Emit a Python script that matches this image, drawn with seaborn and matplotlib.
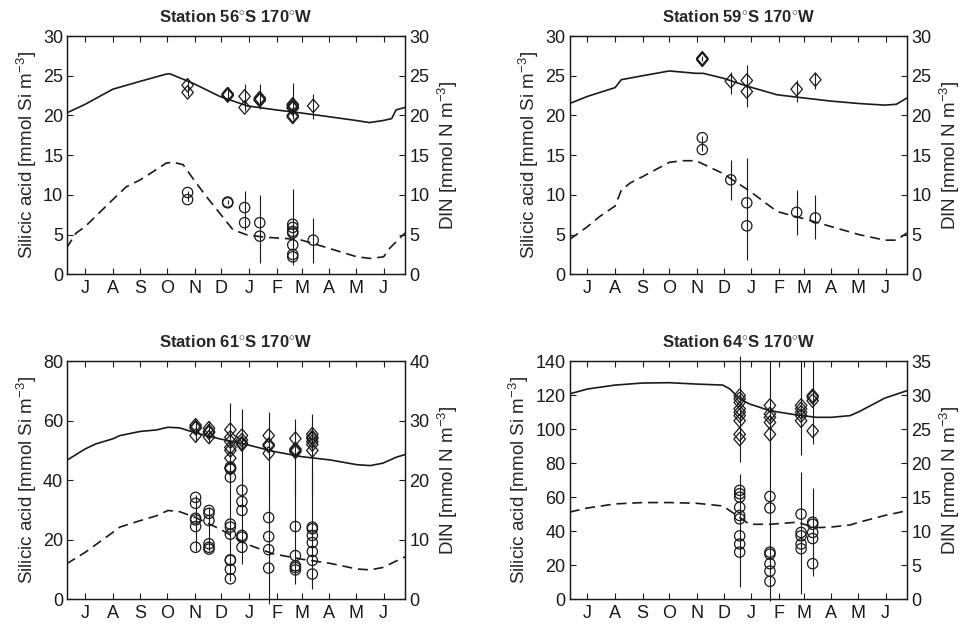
import numpy as np
import pandas as pd
import matplotlib
matplotlib.use("Agg")
import matplotlib.pyplot as plt
import seaborn as sns

sns.set_theme(style="ticks")
plt.rcParams['font.family'] = ['Liberation Sans', 'DejaVu Sans']
plt.rcParams['mathtext.fontset'] = 'custom'
plt.rcParams['mathtext.rm'] = 'Liberation Sans'
plt.rcParams['mathtext.it'] = 'Liberation Sans'
plt.rcParams['mathtext.bf'] = 'Liberation Sans:bold'

# ---------------- data (x = days since 1 July) ----------------
month_labels = ['J', 'A', 'S', 'O', 'N', 'D', 'J', 'F', 'M', 'A', 'M', 'J']
month_ticks = [0, 31, 62, 92, 123, 153, 184, 215, 243, 274, 304, 335]

titles = ['Station 56$^{\\circ}$S 170$^{\\circ}$W', 'Station 59$^{\\circ}$S 170$^{\\circ}$W',
          'Station 61$^{\\circ}$S 170$^{\\circ}$W', 'Station 64$^{\\circ}$S 170$^{\\circ}$W']

# Station 56S
s1_si_days = [-21, 0, 31, 62, 91, 95, 122, 151, 182, 214, 243, 273, 305, 319, 334, 344, 349, 359]
s1_si_model = [20.3, 21.4, 23.3, 24.3, 25.2, 25.25, 24.0, 22.4, 21.2, 20.7, 20.3, 19.85, 19.35, 19.1, 19.35, 19.6, 20.7, 21.0]
s1_din_days = [-21, -10, 0, 31, 46, 62, 76, 91, 99, 110, 122, 136, 151, 166, 182, 203, 226, 243, 273, 305, 320, 335, 342, 359]
s1_din_model = [3.3, 5.2, 6.0, 9.4, 11.0, 11.9, 12.9, 14.0, 14.1, 13.8, 11.9, 9.8, 7.7, 5.6, 4.95, 4.66, 4.5, 4.3, 3.3, 2.2, 2.0, 2.2, 3.3, 5.2]
s1_si_obs_days = [115, 115, 160, 160, 160, 179, 179, 196, 196, 196, 233, 233, 233, 233, 233, 233, 256]
s1_si_obs = [23.8, 22.9, 22.5, 22.7, 22.6, 22.4, 21.0, 22.0, 22.2, 21.9, 21.4, 21.2, 21.0, 20.9, 20.0, 19.8, 21.2]
s1_din_obs_days = [115, 115, 160, 160, 179, 179, 196, 196, 233, 233, 233, 233, 233, 233, 233, 256]
s1_din_obs = [10.3, 9.4, 9.1, 9.0, 8.4, 6.5, 6.5, 4.8, 6.3, 5.9, 5.4, 5.2, 3.7, 2.5, 2.2, 4.3]
s1_si_err_days = [115, 160, 179, 196, 233, 256]
s1_si_err_lo = [22.5, 22.0, 20.5, 20.8, 19.5, 19.5]
s1_si_err_hi = [24.3, 23.2, 23.9, 23.9, 24.1, 22.7]
s1_din_err_days = [115, 160, 179, 196, 233, 256]
s1_din_err_lo = [9.2, 8.8, 5.6, 1.4, 1.2, 1.4]
s1_din_err_hi = [10.5, 9.4, 10.5, 10.0, 10.8, 7.1]

# Station 59S
s2_si_days = [-20, 0, 31, 38, 62, 92, 122, 130, 152, 182, 213, 243, 274, 305, 334, 347, 359]
s2_si_model = [21.5, 22.4, 23.5, 24.5, 25.0, 25.6, 25.3, 25.3, 24.7, 23.6, 22.6, 22.2, 21.8, 21.5, 21.3, 21.4, 22.2]
s2_din_days = [-20, 0, 14, 31, 38, 48, 62, 92, 107, 122, 152, 182, 213, 243, 274, 305, 334, 347, 359]
s2_din_model = [4.4, 6.0, 7.3, 8.6, 10.6, 11.5, 12.3, 14.1, 14.3, 14.3, 12.7, 10.5, 7.9, 7.0, 6.0, 5.0, 4.3, 4.3, 5.2]
s2_si_obs_days = [129, 129, 129, 161, 179, 179, 235, 256]
s2_si_obs = [27.2, 27.0, 27.1, 24.3, 24.4, 23.0, 23.3, 24.5]
s2_din_obs_days = [129, 129, 161, 179, 179, 235, 256]
s2_din_obs = [17.2, 15.7, 11.9, 9.0, 6.1, 7.8, 7.1]
s2_si_err_days = [129, 161, 179, 235, 256]
s2_si_err_lo = [26.8, 22.7, 21.1, 21.7, 23.3]
s2_si_err_hi = [27.5, 25.5, 26.3, 24.5, 25.5]
s2_din_err_days = [129, 161, 179, 235, 256]
s2_din_err_lo = [15.5, 9.4, 1.8, 5.0, 4.5]
s2_din_err_hi = [17.4, 14.4, 14.6, 10.6, 10.0]

# Station 61S
s3_si_days = [-21, 0, 12, 31, 39, 62, 80, 93, 106, 124, 151, 181, 211, 243, 275, 305, 320, 334, 349, 359]
s3_si_model = [46.6, 50.5, 52.2, 53.9, 55.0, 56.4, 56.9, 57.8, 57.6, 55.9, 53.9, 52.0, 49.7, 47.9, 46.8, 45.2, 44.9, 45.7, 47.7, 48.6]
s3_din_days = [-21, 0, 31, 39, 62, 80, 93, 106, 124, 151, 181, 211, 243, 275, 305, 320, 334, 359]
s3_din_model = [5.9, 7.85, 11.2, 12.1, 13.2, 14.0, 14.9, 14.7, 13.7, 11.8, 9.25, 7.6, 6.7, 6.0, 5.05, 4.9, 5.3, 7.1]
s3_si_obs_days = [124, 124, 124, 124, 139, 139, 139, 139, 163, 163, 163, 163, 163, 163, 163,
                  176, 176, 176, 176, 206, 206, 206, 206, 236, 236, 236, 236, 255, 255, 255, 255, 255, 255]
s3_si_obs = [58.5, 57.5, 57.8, 55.0, 57.5, 56.5, 56.0, 54.5, 57.0, 54.4, 53.0, 51.0, 50.0, 47.4, 44.0,
             55.0, 53.5, 52.5, 52.0, 55.0, 52.0, 51.5, 49.0, 54.0, 50.5, 50.0, 49.5, 55.5, 54.5, 54.0, 53.0, 52.0, 50.0]
s3_din_obs_days = [124] * 6 + [139] * 6 + [163] * 10 + [176] * 6 + [206] * 4 + [236] * 5 + [255] * 7
s3_din_obs = [17.1, 16.1, 13.6, 13.3, 12.2, 8.7,
              14.9, 14.4, 13.2, 9.3, 8.7, 8.4,
              22.2, 21.9, 20.5, 12.6, 12.1, 10.9, 6.6, 6.5, 5.0, 3.4,
              18.3, 16.4, 14.9, 10.7, 10.4, 8.7,
              13.7, 10.5, 8.3, 5.2,
              12.2, 7.3, 5.6, 5.3, 4.9,
              12.1, 11.8, 10.7, 9.5, 8.0, 6.5, 4.2]
s3_si_err_days = [124, 139, 163, 176, 206, 236, 255]
s3_si_err_lo = [53.0, 53.0, 40.0, 40.0, 35.0, 35.0, 35.0]
s3_si_err_hi = [60.0, 60.0, 66.0, 64.0, 62.8, 60.6, 62.3]
s3_din_err_days = [124, 139, 163, 176, 206, 236, 255]
s3_din_err_lo = [8.0, 8.0, 3.1, 5.9, -0.8, 2.5, 1.7]
s3_din_err_hi = [17.5, 15.5, 22.0, 20.5, 20.0, 20.0, 22.0]

# Station 64S
s4_si_days = [-20, 0, 31, 62, 92, 122, 152, 160, 171, 182, 205, 235, 257, 274, 295, 305, 334, 359]
s4_si_model = [120.8, 123.7, 126.0, 127.2, 127.4, 126.6, 126.0, 123.7, 117.9, 114.9, 110.9, 108.4, 107.0, 107.0, 108.0, 110.3, 118.3, 122.7]
s4_din_days = [-20, 0, 31, 62, 92, 122, 152, 160, 171, 182, 205, 235, 257, 274, 295, 305, 334, 359]
s4_din_model = [12.8, 13.4, 14.0, 14.2, 14.2, 14.1, 13.7, 13.0, 12.0, 11.0, 11.0, 11.3, 10.5, 10.6, 10.9, 11.3, 12.3, 13.0]
s4_si_obs_days = [171] * 9 + [205] * 5 + [240] * 5 + [253] * 4
s4_si_obs = [119.8, 117.9, 115.8, 112.0, 110.0, 108.0, 105.0, 97.0, 94.2,
             114.0, 109.0, 107.0, 104.0, 97.0,
             114.0, 112.0, 110.0, 108.0, 105.0,
             119.8, 118.8, 116.8, 99.0]
s4_din_obs_days = [171] * 9 + [205] * 7 + [240] * 5 + [253] * 5
s4_din_obs = [16.0, 15.5, 15.0, 13.5, 12.3, 11.8, 9.3, 8.1, 6.9,
              15.1, 13.4, 6.9, 6.6, 5.2, 4.1, 2.6,
              12.5, 9.8, 9.3, 8.1, 7.4,
              11.3, 11.0, 9.8, 8.9, 5.2]
s4_si_err_days = [171, 205, 240, 253]
s4_si_err_lo = [80.5, 85.0, 85.0, 91.0]
s4_si_err_hi = [143.0, 140.0, 140.0, 140.0]
s4_din_err_days = [171, 205, 240, 253]
s4_din_err_lo = [1.7, -0.3, 0.7, 3.4]
s4_din_err_hi = [18.4, 25.0, 18.7, 16.4]

panels = [
    dict(si_days=s1_si_days, si_model=s1_si_model, din_days=s1_din_days, din_model=s1_din_model,
         si_obs_days=s1_si_obs_days, si_obs=s1_si_obs, din_obs_days=s1_din_obs_days, din_obs=s1_din_obs,
         si_err=(s1_si_err_days, s1_si_err_lo, s1_si_err_hi), din_err=(s1_din_err_days, s1_din_err_lo, s1_din_err_hi),
         ylim_l=(0, 30), yticks_l=[0, 5, 10, 15, 20, 25, 30], ylim_r=(0, 30), yticks_r=[0, 5, 10, 15, 20, 25, 30]),
    dict(si_days=s2_si_days, si_model=s2_si_model, din_days=s2_din_days, din_model=s2_din_model,
         si_obs_days=s2_si_obs_days, si_obs=s2_si_obs, din_obs_days=s2_din_obs_days, din_obs=s2_din_obs,
         si_err=(s2_si_err_days, s2_si_err_lo, s2_si_err_hi), din_err=(s2_din_err_days, s2_din_err_lo, s2_din_err_hi),
         ylim_l=(0, 30), yticks_l=[0, 5, 10, 15, 20, 25, 30], ylim_r=(0, 30), yticks_r=[0, 5, 10, 15, 20, 25, 30]),
    dict(si_days=s3_si_days, si_model=s3_si_model, din_days=s3_din_days, din_model=s3_din_model,
         si_obs_days=s3_si_obs_days, si_obs=s3_si_obs, din_obs_days=s3_din_obs_days, din_obs=s3_din_obs,
         si_err=(s3_si_err_days, s3_si_err_lo, s3_si_err_hi), din_err=(s3_din_err_days, s3_din_err_lo, s3_din_err_hi),
         ylim_l=(0, 80), yticks_l=[0, 20, 40, 60, 80], ylim_r=(0, 40), yticks_r=[0, 10, 20, 30, 40]),
    dict(si_days=s4_si_days, si_model=s4_si_model, din_days=s4_din_days, din_model=s4_din_model,
         si_obs_days=s4_si_obs_days, si_obs=s4_si_obs, din_obs_days=s4_din_obs_days, din_obs=s4_din_obs,
         si_err=(s4_si_err_days, s4_si_err_lo, s4_si_err_hi), din_err=(s4_din_err_days, s4_din_err_lo, s4_din_err_hi),
         ylim_l=(0, 140), yticks_l=[0, 20, 40, 60, 80, 100, 120, 140], ylim_r=(0, 35), yticks_r=[0, 5, 10, 15, 20, 25, 30, 35]),
]

# ---------------- figure ----------------
W, H = 966, 629
fig = plt.figure(figsize=(W / 100, H / 100), dpi=100)
boxes = [(67.3, 36, 405, 274.3), (569.7, 36, 907, 274.3),
         (67.3, 361.3, 405, 599), (569.7, 361.3, 907, 599)]

diamond = [(0, 1), (0.85, 0), (0, -1), (-0.85, 0), (0, 1)]
FS = 13

for p, box, title in zip(panels, boxes, titles):
    x0, y0, x1, y1 = box
    ax = fig.add_axes([x0 / W, 1 - y1 / H, (x1 - x0) / W, (y1 - y0) / H])
    ax2 = ax.twinx()

    # model lines
    sns.lineplot(x=p['si_days'], y=p['si_model'], ax=ax, color='k', lw=1.2,
                 estimator=None, sort=False)
    sns.lineplot(x=p['din_days'], y=p['din_model'], ax=ax2, color='k', lw=1.2,
                 estimator=None, sort=False)
    ax2.lines[-1].set_dashes((6, 3.5))

    # error bars
    d, lo, hi = p['si_err']
    ax.vlines(d, lo, hi, color='k', lw=0.8, clip_on=False)
    d, lo, hi = p['din_err']
    ax2.vlines(d, lo, hi, color='k', lw=0.8, clip_on=False)

    # observations
    sns.scatterplot(x=p['si_obs_days'], y=p['si_obs'], ax=ax, marker=diamond, s=95,
                    facecolor='none', edgecolor='k', linewidth=0.9, clip_on=False)
    sns.scatterplot(x=p['din_obs_days'], y=p['din_obs'], ax=ax2, marker='o', s=55,
                    facecolor='none', edgecolor='k', linewidth=0.9, clip_on=False)

    ax.set_xlim(-20, 359)
    ax.set_ylim(*p['ylim_l'])
    ax2.set_ylim(*p['ylim_r'])
    ax.set_xticks(month_ticks)
    ax.set_xticklabels(month_labels)
    ax.set_yticks(p['yticks_l'])
    ax2.set_yticks(p['yticks_r'])
    ax.tick_params(axis='x', which='both', direction='in', top=True, bottom=True,
                   length=4, width=0.8, labelsize=FS, pad=4, colors='k')
    ax.tick_params(axis='y', direction='in', left=True, right=False, length=4,
                   width=0.8, labelsize=FS, pad=3, colors='k')
    ax2.tick_params(axis='y', direction='in', right=True, left=False, length=4,
                    width=0.8, labelsize=FS, pad=3, colors='k')
    for a in (ax, ax2):
        for s in a.spines.values():
            s.set_visible(True)
            s.set_linewidth(0.9)
            s.set_color('k')
    ax.set_ylabel('Silicic acid [mmol Si m$^{-3}$]', fontsize=13.5, labelpad=3)
    ax2.set_ylabel('DIN [mmol N m$^{-3}$]', fontsize=13.5, rotation=90, labelpad=5)
    ax.set_xlabel('')
    ax.set_title(title, fontsize=12, fontweight='bold', pad=10)

fig.savefig('out.png', dpi=100)
